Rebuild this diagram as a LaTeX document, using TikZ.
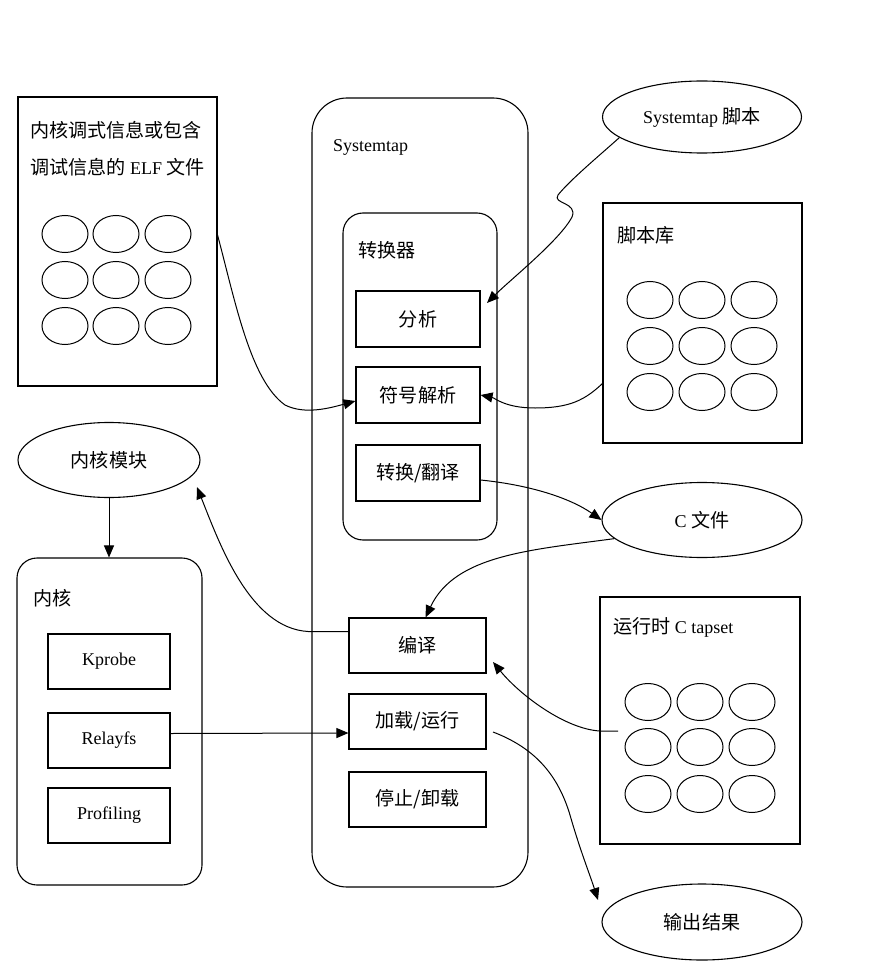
\documentclass[tikz,border=0pt]{standalone}
\usepackage{fontspec}
\setmainfont{Liberation Serif}
\newfontfamily\cjk[Scale=1.06]{Noto Sans CJK SC}
\usetikzlibrary{shapes.geometric,arrows.meta}
\begin{document}
\begin{tikzpicture}[x=1pt,y=-1pt,
  box/.style={draw, line width=1.1pt, rectangle, inner sep=0pt},
  rbox/.style={draw, line width=1.1pt, rectangle, inner sep=0pt, rounded corners=#1},
  oval/.style={draw, line width=1.1pt, ellipse, inner sep=0pt},
  cell/.style={draw, line width=1pt, ellipse, inner sep=0pt, minimum width=46pt, minimum height=37pt},
  lbl/.style={anchor=west, inner sep=0pt},
  conn/.style={line width=1pt, -{Triangle[length=12pt,width=10pt]}},
  font=\fontsize{18}{21}\selectfont]
\useasboundingbox (0,0) rectangle (879,973);

% ELF box
\node[box, minimum width=199pt, minimum height=289pt] (elf) at (117.5,241.5) {};
\node[lbl] (elfl1) at (30,130) {\cjk 内核调式信息或包含};
\node[lbl] (elfl2) at (30,167) {{\cjk 调试信息的} ELF {\cjk 文件}};
\foreach \r/\y in {1/234,2/280,3/326}
  \foreach \c/\x in {1/65,2/116,3/168}
    \node[cell] (elf-\r-\c) at (\x,\y) {};

% Systemtap
\node[rbox=35pt, minimum width=216pt, minimum height=789pt] (stap) at (420,492.5) {};
\node[lbl] (stapl) at (333,147) {Systemtap};
\node[rbox=20pt, minimum width=154pt, minimum height=327pt] (conv) at (420,376.5) {};
\node[lbl] (convl) at (358,250) {\cjk 转换器};
\node[box, minimum width=124pt, minimum height=56pt] (ana) at (418,319) {\cjk 分析};
\node[box, minimum width=124pt, minimum height=56pt] (sym) at (418,395) {\cjk 符号解析};
\node[box, minimum width=124pt, minimum height=56pt] (trans) at (418,473) {\cjk 转换/翻译};
\node[box, minimum width=137pt, minimum height=55pt] (comp) at (417.5,645.5) {\cjk 编译};
\node[box, minimum width=137pt, minimum height=55pt] (load) at (417.5,721.5) {\cjk 加载/运行};
\node[box, minimum width=137pt, minimum height=55pt] (stop) at (417.5,799.5) {\cjk 停止/卸载};

% Kernel
\node[oval, minimum width=182pt, minimum height=75pt] (mod) at (109,460) {\cjk 内核模块};
\node[rbox=20pt, minimum width=185pt, minimum height=327pt] (kern) at (109.5,721.5) {};
\node[lbl] (kernl) at (33,598) {\cjk 内核};
\node[box, minimum width=122pt, minimum height=55pt] (kp) at (109,661.5) {Kprobe};
\node[box, minimum width=122pt, minimum height=55pt] (rel) at (109,740.5) {Relayfs};
\node[box, minimum width=122pt, minimum height=55pt] (prof) at (109,815.5) {Profiling};

% Right side
\node[oval, minimum width=199pt, minimum height=72pt] (script) at (702,117) {Systemtap {\cjk 脚本}};
\node[box, minimum width=199pt, minimum height=240pt] (lib) at (702.5,323) {};
\node[lbl] (libl) at (617,235) {\cjk 脚本库};
\foreach \r/\y in {1/300,2/346,3/392}
  \foreach \c/\x in {1/650,2/702,3/754}
    \node[cell] (lib-\r-\c) at (\x,\y) {};
\node[oval, minimum width=200pt, minimum height=75pt] (cfile) at (702,520) {C {\cjk 文件}};
\node[box, minimum width=200pt, minimum height=247pt] (tapset) at (700,720.5) {};
\node[lbl] (tapsetl) at (613,627) {{\cjk 运行时} C tapset};
\foreach \r/\y in {1/702,2/747,3/794}
  \foreach \c/\x in {1/648,2/700,3/752}
    \node[cell] (tap-\r-\c) at (\x,\y) {};
\node[oval, minimum width=200pt, minimum height=76pt] (out) at (702,922) {\cjk 输出结果};

% Connectors
\coordinate (elfout) at (217,233);
\draw[conn] (elfout) .. controls (235,300) and (250,380) .. (285,405) .. controls (305,415) and (330,408) .. ([yshift=-6pt]sym.west);

\coordinate (scrtip) at (487,303);
\draw[conn] (script.194) .. controls (600,155) and (570,180) .. (558,195) .. controls (552,204) and (578,202) .. (572,217) .. controls (560,240) and (510,280) .. (scrtip);

\coordinate (libout) at (603,383);
\draw[conn] (libout) .. controls (585,400) and (570,408) .. (535,408) .. controls (505,408) and (495,398) .. (sym.east);

\draw[conn] ([yshift=-7pt]trans.east) .. controls (530,485) and (570,498) .. (cfile.west);

\draw[conn] (cfile.192) .. controls (530,550) and (455,555) .. ([xshift=8pt]comp.north);

\coordinate (modtip) at (197,487);
\draw[conn] ([yshift=14pt]comp.west) -- (308,631.5) .. controls (250,628) and (220,545) .. (modtip);

\coordinate (tapin) at (618,731);
\coordinate (comptip) at (493,662);
\draw[conn] (tapin) -- (600,731) .. controls (565,729) and (520,695) .. (comptip);

\coordinate (loadout) at (493,732);
\coordinate (outtip) at (598,900);
\draw[conn] (loadout) .. controls (535,748) and (558,775) .. (570,815) .. controls (580,850) and (590,875) .. (outtip);

\draw[conn] ([yshift=7pt]rel.east) -- ([yshift=-11.5pt]load.west);

\draw[conn] (mod.south) -- (mod.south |- kern.north);
\end{tikzpicture}
\end{document}
